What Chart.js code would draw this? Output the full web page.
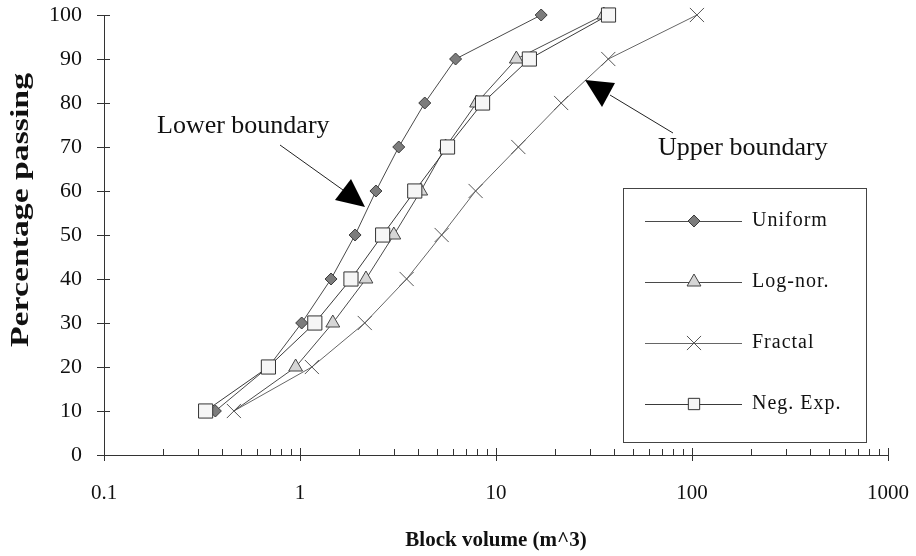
<!DOCTYPE html>
<html>
<head>
<meta charset="utf-8">
<script src="https://cdn.jsdelivr.net/npm/chart.js@4.4.0/dist/chart.umd.min.js"></script>
<style>
  html, body { margin: 0; background: #fff; }
</style>
</head>
<body>
<canvas id="myChart" width="916" height="556"></canvas>
<script>
// percentage passing levels (y) shared by every curve
const passing = [10, 20, 30, 40, 50, 60, 70, 80, 90, 100];

// block volume (m^3) for each curve
const uniformVol = [0.37, 0.69, 1.02, 1.44, 1.91, 2.44, 3.19, 4.33, 6.22, 17.0];
const logNorVol  = [0.46, 0.95, 1.47, 2.17, 3.01, 4.13, 5.53, 7.96, 12.7, 35.5];
const fractalVol = [0.46, 1.15, 2.14, 3.50, 5.28, 7.87, 13.0, 21.5, 37.4, 106];
const negExpVol  = [0.33, 0.69, 1.19, 1.82, 2.64, 3.85, 5.66, 8.54, 14.8, 37.5];

const seriesLabels = ["Uniform", "Log-nor.", "Fractal", "Neg. Exp."];
const xTicks = [0.1, 1, 10, 100, 1000];
const yTicks = [0, 10, 20, 30, 40, 50, 60, 70, 80, 90, 100];

const serif = "'Liberation Serif', 'Times New Roman', serif";

const toPoints = (vols) => vols.map((v, i) => ({ x: v, y: passing[i] }));

const decor = {
    id: "decor",
    afterDraw(chart) {
        const ctx = chart.ctx;
        const xs = chart.scales.x;
        const ys = chart.scales.y;
        const axisY = ys.getPixelForValue(0);
        const axisX = xs.getPixelForValue(0.1);

        ctx.save();
        ctx.strokeStyle = "#333";
        ctx.lineWidth = 1;
        ctx.beginPath();
        // x ticks: decades cross the axis, minors point up
        for (let d = -1; d <= 2; d++) {
            for (let m = 2; m <= 9; m++) {
                const px = Math.round(xs.getPixelForValue(m * Math.pow(10, d))) + 0.5;
                ctx.moveTo(px, axisY);
                ctx.lineTo(px, axisY - 6);
            }
        }
        xTicks.forEach(v => {
            const px = Math.round(xs.getPixelForValue(v)) + 0.5;
            ctx.moveTo(px, axisY - 7);
            ctx.lineTo(px, axisY + 6);
        });
        yTicks.forEach(v => {
            const py = Math.round(ys.getPixelForValue(v)) + 0.5;
            ctx.moveTo(axisX - 7, py);
            ctx.lineTo(axisX + 6, py);
        });
        ctx.stroke();

        // y title
        ctx.save();
        ctx.translate(22, 210);
        ctx.rotate(-Math.PI / 2);
        ctx.scale(1.35, 1);
        ctx.fillStyle = "#111";
        ctx.font = "bold 25px " + serif;
        ctx.textAlign = "center";
        ctx.textBaseline = "middle";
        ctx.fillText("Percentage passing", 0, 0);
        ctx.restore();

        // annotations
        ctx.fillStyle = "#111";
        ctx.font = "26px " + serif;
        ctx.textAlign = "left";
        ctx.textBaseline = "alphabetic";
        ctx.fillText("Lower boundary", 157, 133);
        ctx.fillText("Upper boundary", 658, 155);

        ctx.strokeStyle = "#222";
        ctx.beginPath();
        ctx.moveTo(280, 145); ctx.lineTo(343, 190);
        ctx.moveTo(610, 95); ctx.lineTo(673, 133);
        ctx.stroke();
        ctx.fillStyle = "#000";
        ctx.beginPath();
        ctx.moveTo(351, 179); ctx.lineTo(335, 200); ctx.lineTo(365, 207); ctx.closePath();
        ctx.fill();
        ctx.beginPath();
        ctx.moveTo(585, 80); ctx.lineTo(615, 83); ctx.lineTo(602, 107); ctx.closePath();
        ctx.fill();

        // legend box
        ctx.strokeStyle = "#444";
        ctx.strokeRect(623.5, 188.5, 243, 254);
        const rows = [221, 282, 343, 404];
        ctx.font = "20px " + serif;
        ctx.letterSpacing = "1px";
        ctx.textBaseline = "middle";
        chart.data.datasets.forEach((ds, i) => {
            const y = rows[i];
            ctx.strokeStyle = ds.borderColor;
            ctx.lineWidth = 1;
            ctx.beginPath();
            ctx.moveTo(645, y + 0.5);
            ctx.lineTo(742, y + 0.5);
            ctx.stroke();
            ctx.fillStyle = ds.pointBackgroundColor;
            ctx.strokeStyle = ds.pointBorderColor;
            Chart.helpers.drawPoint(ctx, {
                pointStyle: ds.pointStyle,
                radius: ds.legendRadius,
                rotation: 0,
                borderWidth: 1
            }, 694, y);
            ctx.fillStyle = "#111";
            ctx.fillText(ds.label, 752, y);
        });
        ctx.restore();
    }
};

new Chart(document.getElementById("myChart").getContext("2d"), {
    type: "line",
    data: {
        datasets: [
            {
                label: seriesLabels[0],
                data: toPoints(uniformVol),
                borderColor: "#4a4a4a",
                borderWidth: 1,
                pointStyle: "rectRot",
                pointRadius: 6,
                legendRadius: 6,
                pointBackgroundColor: "#7c7c7c",
                pointBorderColor: "#3a3a3a",
                pointBorderWidth: 1,
                clip: false,
                order: 1
            },
            {
                label: seriesLabels[1],
                data: toPoints(logNorVol),
                borderColor: "#4a4a4a",
                borderWidth: 1,
                pointStyle: "triangle",
                pointRadius: (c) => (c.dataIndex === 0 ? 0 : 8),
                legendRadius: 8,
                pointBackgroundColor: "#d6d6d6",
                pointBorderColor: "#444",
                pointBorderWidth: 1,
                clip: false,
                order: 2
            },
            {
                label: seriesLabels[2],
                data: toPoints(fractalVol),
                borderColor: "#666",
                borderWidth: 1,
                pointStyle: "crossRot",
                pointRadius: 10,
                legendRadius: 10,
                pointBackgroundColor: "#fff",
                pointBorderColor: "#555",
                pointBorderWidth: 1,
                clip: false,
                order: 3
            },
            {
                label: seriesLabels[3],
                data: toPoints(negExpVol),
                borderColor: "#3a3a3a",
                borderWidth: 1,
                pointStyle: "rect",
                pointRadius: 10,
                legendRadius: 8,
                pointBackgroundColor: "#f6f6f6",
                pointBorderColor: "#333",
                pointBorderWidth: 1,
                clip: false,
                order: 0
            }
        ]
    },
    options: {
        responsive: false,
        animation: false,
        devicePixelRatio: 1,
        layout: { padding: { top: 15, right: 28, left: 0, bottom: 0 } },
        elements: { line: { tension: 0, fill: false } },
        plugins: {
            legend: { display: false },
            tooltip: { enabled: false }
        },
        scales: {
            x: {
                type: "logarithmic",
                min: 0.1,
                max: 1000,
                afterBuildTicks: (s) => { s.ticks = xTicks.map(v => ({ value: v })); },
                afterFit: (s) => { s.height = 101; s.paddingLeft = 0; s.paddingRight = 0; },
                grid: { display: false, drawTicks: false },
                border: { display: true, color: "#333", width: 1 },
                ticks: {
                    autoSkip: false,
                    maxRotation: 0,
                    padding: 26,
                    color: "#111",
                    font: { family: serif, size: 21 },
                    callback: (v) => String(v)
                },
                title: {
                    display: true,
                    text: "Block volume (m^3)",
                    color: "#111",
                    font: { family: serif, size: 21, weight: "bold" },
                    padding: { top: 0, bottom: 3 }
                }
            },
            y: {
                min: 0,
                max: 100,
                afterBuildTicks: (s) => { s.ticks = yTicks.map(v => ({ value: v })); },
                afterFit: (s) => { s.width = 104; s.paddingTop = 0; s.paddingBottom = 0; },
                grid: { display: false, drawTicks: false },
                border: { display: true, color: "#333", width: 1 },
                ticks: {
                    padding: 22,
                    color: "#111",
                    font: { family: serif, size: 22 }
                }
            }
        }
    },
    plugins: [decor]
});
</script>
</body>
</html>
